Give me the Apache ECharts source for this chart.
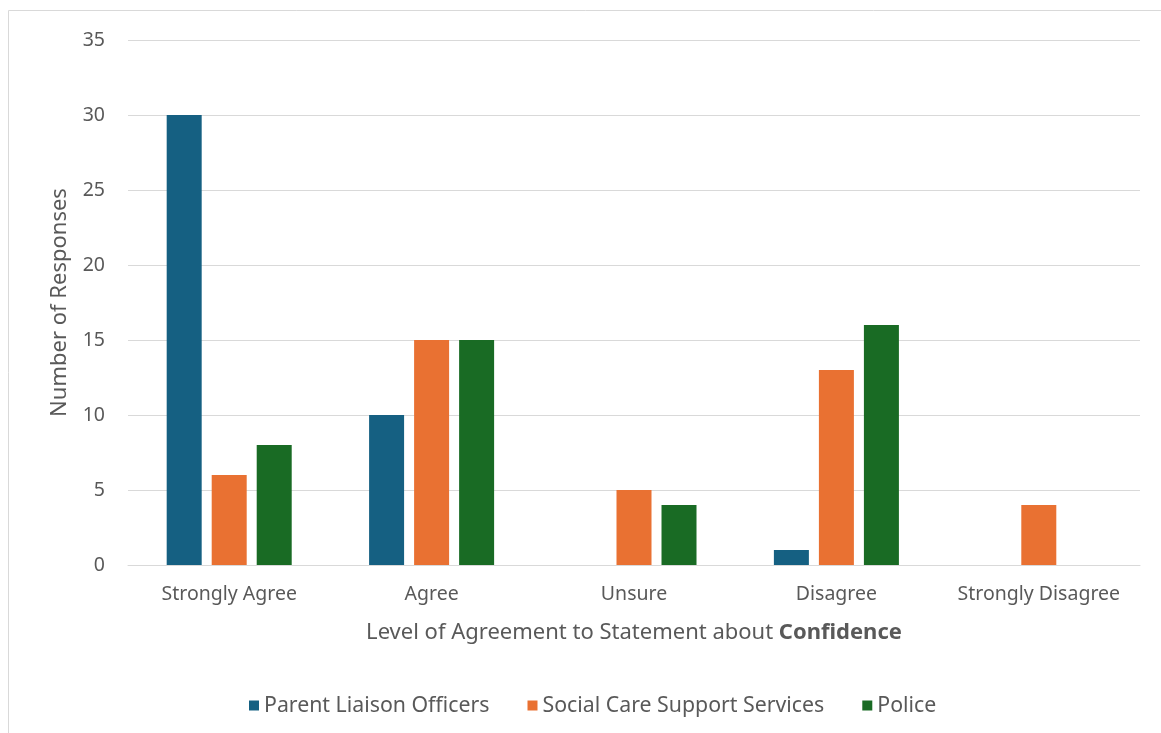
<!DOCTYPE html>
<html><head><meta charset="utf-8">
<script src="https://cdn.jsdelivr.net/npm/echarts@6/dist/echarts.min.js"></script>
<style>html,body{margin:0;padding:0;background:#fff}#c{width:1161px;height:733px}</style>
</head><body><div id="c"></div>
<script>
const categories = ['Strongly Agree', 'Agree', 'Unsure', 'Disagree', 'Strongly Disagree'];
const seriesNames = ['Parent Liaison Officers', 'Social Care Support Services', 'Police'];
const parentLiaison = [30, 10, 0, 1, 0];
const socialCare = [6, 15, 5, 13, 4];
const police = [8, 15, 4, 16, 0];
const colors = ['#156082', '#E97132', '#196B24'];
const font = '"Noto Sans", "Open Sans", sans-serif';
const chart = echarts.init(document.getElementById('c'));
const data = [parentLiaison, socialCare, police];
chart.setOption({
  animation: false,
  graphic: [{type:'rect', shape:{x:8.5, y:10.5, width:1300, height:900}, style:{fill:'none', stroke:'#d9d9d9', lineWidth:1}, silent:true}],
  grid: {left: 128, right: 21, top: 40, bottom: 168, containLabel: false},
  legend: {top: 690, left: 244, itemWidth: 10, itemHeight: 10, itemGap: 38, icon: 'rect',
    textStyle: {color: '#595959', fontSize: 21.3, fontFamily: font}, data: seriesNames},
  xAxis: {type: 'category', data: categories,
    axisLine: {lineStyle: {color: '#d9d9d9', width: 1}}, axisTick: {show: false},
    axisLabel: {color: '#595959', fontSize: 19.5, fontFamily: font, margin: 19, interval: 0},
    name: 'Level of Agreement to Statement about {b|Confidence}', nameLocation: 'middle', nameGap: 57,
    nameTextStyle: {color: '#595959', fontSize: 22, fontFamily: font, rich: {b: {fontWeight: 'bold', color: '#595959', fontSize: 22, fontFamily: font}}}},
  yAxis: {type: 'value', min: 0, max: 35, interval: 5,
    axisLine: {show: false}, axisTick: {show: false},
    splitLine: {lineStyle: {color: '#d9d9d9', width: 1}},
    axisLabel: {color: '#595959', fontSize: 19.5, fontFamily: font, margin: 23},
    name: 'Number of Responses', nameLocation: 'middle', nameGap: 57,
    nameTextStyle: {color: '#595959', fontSize: 22, fontFamily: font}},
  series: seriesNames.map((n, i) => ({name: n, type: 'bar', data: data[i], barWidth: 35, barGap: '28.6%',
    itemStyle: {color: colors[i]}}))
});
</script></body></html>
